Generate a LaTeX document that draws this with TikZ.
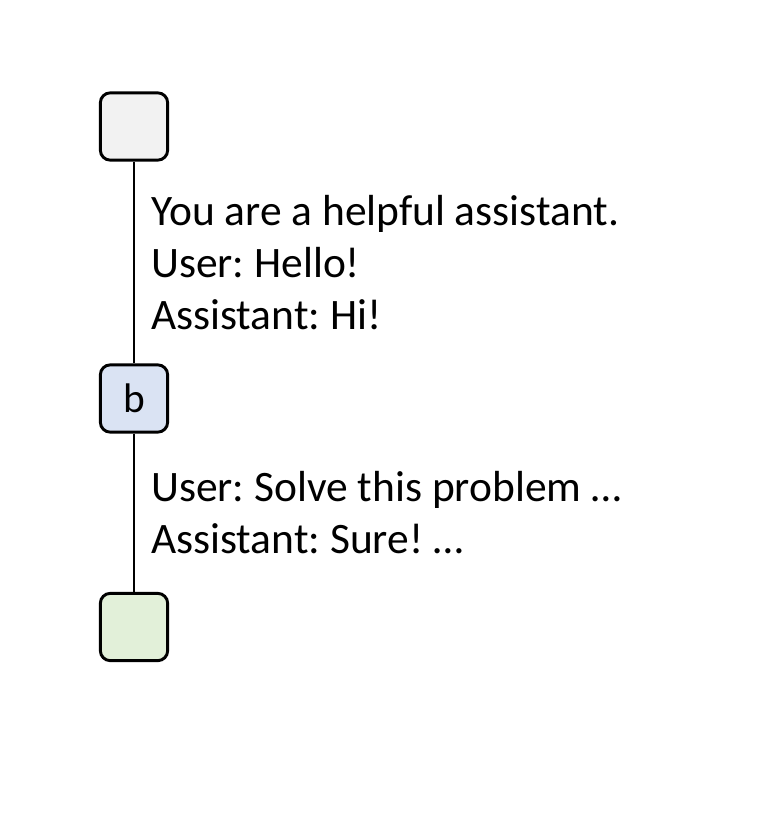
\documentclass[tikz,border=0pt]{standalone}
\usepackage{fontspec}
\setmainfont{Carlito}
\usepackage{tikz}
\usetikzlibrary{calc,positioning}

\definecolor{boxgray}{HTML}{F2F2F2}
\definecolor{boxblue}{HTML}{DAE3F3}
\definecolor{boxgreen}{HTML}{E2F0D9}
\frenchspacing

\begin{document}
\begin{tikzpicture}[
            x=0.75pt,y=-0.75pt,
            every node/.append style={black},
            turn/.style={draw,line width=2.2pt,rounded corners=7.5pt,minimum size=50.5pt,inner sep=0pt,font=\fontsize{31}{36}\selectfont},
            msg/.style={right,xshift=12pt,align=left,inner sep=0pt,font=\fontsize{32.6}{39}\selectfont},
            every path/.append style={line width=1.8pt}
        ]
            \useasboundingbox (0,0) rectangle (770,834);

            \node[turn,fill=boxgray] (root) at (134,126.5) {};
            \node[turn,fill=boxblue] (b) at (134,398.5) {b};
            \node[turn,fill=boxgreen] (leaf) at (134,627) {};

            \draw (root) -- node[msg]{You are a helpful assistant.\\User: Hello!\\Assistant: Hi!} (b);
            \draw (b) -- node[msg]{User: Solve this problem \dots\\Assistant: Sure! \dots} (leaf);
        \end{tikzpicture}
\end{document}
